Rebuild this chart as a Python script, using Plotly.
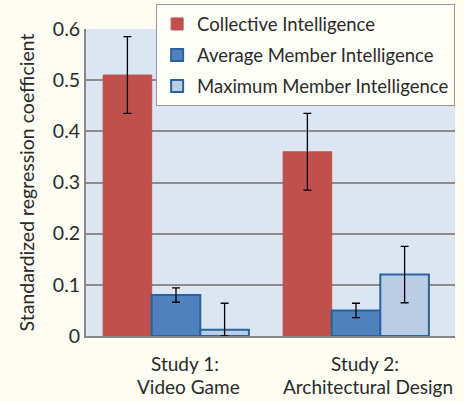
import plotly.graph_objects as go

categories = ["Study 1", "Study 2"]
tick_line1 = ["Study 1:", "Study 2:"]
tick_line2 = ["Video Game", "Architectural Design"]
series_names = ["Collective Intelligence", "Average Member Intelligence", "Maximum Member Intelligence"]
collective = [0.51, 0.36]
collective_err = [0.075, 0.075]
average = [0.08, 0.05]
average_err = [0.014, 0.014]
maximum = [0.012, 0.12]
maximum_err_plus = [0.052, 0.055]
maximum_err_minus = [0.012, 0.055]
y_ticks = [0, 0.1, 0.2, 0.3, 0.4, 0.5, 0.6]
y_tick_labels = ["0", "0.1", "0.2", "0.3", "0.4", "0.5", "0.6"]

FONT = "Lato, Open Sans, sans-serif"
TXT = "#2a2a2a"

fig = go.Figure()
err_style = dict(color="black", thickness=1.3, width=4)
fig.add_trace(go.Bar(
    x=categories, y=collective, name=series_names[0], legendgroup="a",
    marker=dict(color="#c0504d", line=dict(color="#c0504d", width=1)),
    error_y=dict(type="data", array=collective_err, **err_style),
))
fig.add_trace(go.Bar(
    x=categories, y=average, name=series_names[1], legendgroup="b",
    marker=dict(color="#4f81bd", line=dict(color="#2a62a0", width=2)),
    error_y=dict(type="data", array=average_err, **err_style),
))
fig.add_trace(go.Bar(
    x=categories, y=maximum, name=series_names[2], legendgroup="c",
    marker=dict(color="#b9cde5", line=dict(color="#2a62a0", width=2)),
    error_y=dict(type="data", symmetric=False, array=maximum_err_plus,
                 arrayminus=maximum_err_minus, **err_style),
))

for cat, txt in zip(categories, tick_line2):
    fig.add_annotation(
        x=cat, y=0, xref="x", yref="paper", text=txt, showarrow=False,
        yanchor="middle", xanchor="center", yshift=-50, xshift=12,
        font=dict(family=FONT, size=19, color=TXT),
    )

fig.update_layout(
    width=464, height=401,
    margin=dict(l=86, r=9, t=29, b=65, autoexpand=False),
    paper_bgcolor="#fdfdf4",
    plot_bgcolor="#dce6f2",
    barmode="group", bargap=0.19, bargroupgap=0,
    font=dict(family=FONT, size=18, color=TXT),
    showlegend=True,
    legend=dict(
        x=0.19, y=1.08, xanchor="left", yanchor="top",
        bgcolor="#fffffa", bordercolor="#999999", borderwidth=1,
        font=dict(family=FONT, size=18.5, color=TXT),
        tracegroupgap=4, traceorder="grouped",
        itemwidth=30,
    ),
    xaxis=dict(
        showline=True, linecolor="#888888", linewidth=2,
        ticks="", tickfont=dict(size=19), showgrid=False,
        tickvals=categories, ticktext=tick_line1,
        ticklabelshift=9, ticklabelstandoff=10, automargin=False,
    ),
    yaxis=dict(
        range=[0, 0.6], tickvals=y_ticks, ticktext=y_tick_labels,
        showgrid=True, gridcolor="#8c8c8c", gridwidth=2,
        showline=True, linecolor="#888888", linewidth=2,
        zeroline=False, ticks="", ticklen=0, automargin=False,
        tickfont=dict(size=19.5),
        title=dict(text="Standardized regression coefficient", font=dict(size=19.5), standoff=13),
    ),
)

fig.write_html("out.html", config={"displayModeBar": False},
               post_script="document.body.style.margin='0';")
